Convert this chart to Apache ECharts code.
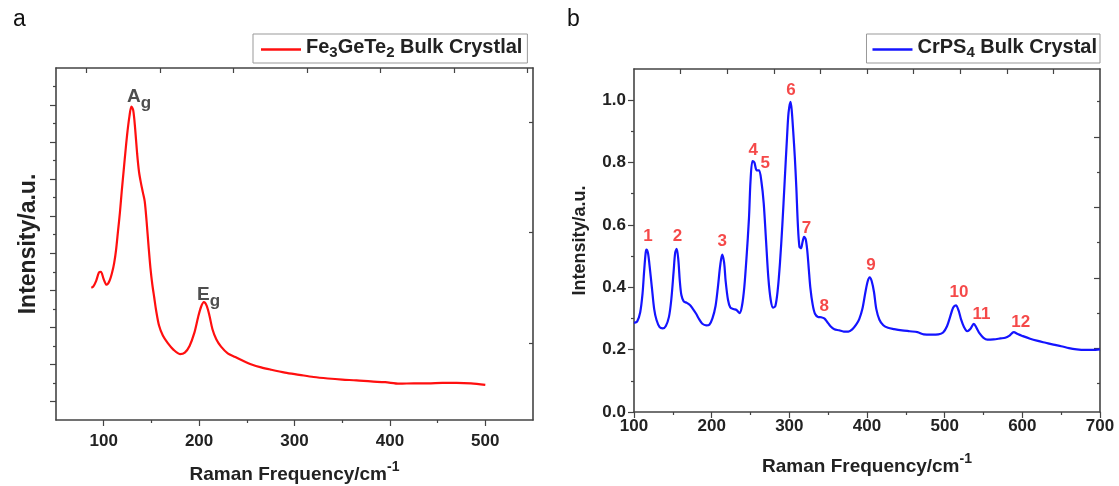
<!DOCTYPE html>
<html>
<head>
<meta charset="utf-8">
<script src="https://cdn.jsdelivr.net/npm/echarts@6/dist/echarts.min.js"></script>
<style>
  html, body { margin: 0; padding: 0; background: #fff; }
  #chart { width: 1119px; height: 486px; }
</style>
</head>
<body>
<div id="chart"></div>
<script>
// panel a: Fe3GeTe2 (arbitrary units, no tick labels)
const fgtX = [87, 89, 92, 95, 97, 100, 103, 106, 109, 111, 113, 115, 117, 119, 121, 123, 125, 127, 129, 131, 133, 135, 137, 139, 141, 143, 145, 147, 149, 151, 153, 155, 158, 162, 167, 173, 180, 185, 190, 195, 199, 202, 205, 208, 211, 214, 218, 223, 230, 238, 246, 255, 265, 275, 290, 305, 320, 335, 350, 365, 380, 395, 410, 425, 440, 455, 470, 485, 500]
const fgtY = [3.57, 3.6, 3.75, 3.98, 4.0, 3.8, 3.65, 3.75, 4.0, 4.24, 4.6, 5.1, 5.6, 6.2, 6.75, 7.3, 7.8, 8.2, 8.46, 8.35, 7.85, 7.2, 6.7, 6.4, 6.15, 5.9, 5.35, 4.7, 4.1, 3.65, 3.3, 2.95, 2.55, 2.28, 2.08, 1.9, 1.78, 1.82, 2.0, 2.35, 2.78, 3.05, 3.18, 3.08, 2.8, 2.45, 2.18, 1.98, 1.8, 1.7, 1.6, 1.5, 1.42, 1.36, 1.28, 1.22, 1.16, 1.12, 1.09, 1.07, 1.04, 1.02, 0.98, 0.99, 0.99, 1.0, 1.0, 0.99, 0.95]

// panel b: CrPS4
const crpsX = [100, 104, 108, 111, 113, 115, 116, 118, 120, 123, 126, 129, 133, 137, 141, 145, 148, 151, 153, 155, 157, 159, 161, 164, 168, 172, 176, 180, 184, 188, 193, 197, 201, 205, 208, 211, 213.5, 216, 218, 221, 224, 228, 232, 236, 239, 242, 245, 248, 250, 252.5, 255, 258, 261, 264, 267, 270, 273, 276, 279, 282, 285, 288, 291, 294, 297, 299, 301.5, 303, 305, 307, 309, 311, 313, 315, 317, 319, 321, 323, 325, 327, 330, 333, 337, 341, 345, 349, 353, 358, 364, 370, 376, 381, 386, 390, 394, 398, 401, 403.5, 406, 409, 412, 416, 421, 427, 435, 445, 455, 465, 473, 483, 492, 498, 503, 507, 511, 514.5, 518, 521, 525, 529, 533, 537.5, 541, 545, 550, 555, 563, 572, 578, 583, 589, 594, 600, 610, 620, 630, 640, 650, 660, 670, 680, 690, 700]
const crpsY = [0.286, 0.29, 0.32, 0.38, 0.45, 0.51, 0.521, 0.51, 0.47, 0.40, 0.33, 0.295, 0.272, 0.268, 0.276, 0.305, 0.36, 0.45, 0.51, 0.523, 0.49, 0.42, 0.375, 0.355, 0.35, 0.343, 0.33, 0.315, 0.297, 0.283, 0.278, 0.28, 0.30, 0.34, 0.40, 0.47, 0.505, 0.48, 0.42, 0.36, 0.335, 0.330, 0.327, 0.317, 0.34, 0.40, 0.50, 0.62, 0.74, 0.805, 0.80, 0.775, 0.775, 0.74, 0.67, 0.55, 0.43, 0.36, 0.335, 0.34, 0.39, 0.48, 0.60, 0.74, 0.88, 0.96, 0.995, 0.97, 0.90, 0.82, 0.72, 0.60, 0.53, 0.525, 0.545, 0.562, 0.555, 0.52, 0.46, 0.40, 0.345, 0.315, 0.305, 0.304, 0.300, 0.288, 0.275, 0.265, 0.262, 0.258, 0.258, 0.265, 0.28, 0.298, 0.33, 0.385, 0.42, 0.432, 0.42, 0.385, 0.33, 0.296, 0.278, 0.270, 0.266, 0.262, 0.259, 0.256, 0.249, 0.248, 0.249, 0.255, 0.275, 0.305, 0.335, 0.342, 0.325, 0.298, 0.272, 0.259, 0.266, 0.283, 0.27, 0.252, 0.238, 0.232, 0.233, 0.236, 0.238, 0.244, 0.256, 0.25, 0.244, 0.235, 0.228, 0.222, 0.216, 0.211, 0.205, 0.201, 0.199, 0.199, 0.201]

// mode labels
const fgtModeText = ['{b|A}{s|g}', '{b|E}{s|g}']
const fgtModeX = [137, 210]
const fgtModeY = [8.62, 3.28]
const crpsPeakText = ['1', '2', '3', '4', '5', '6', '7', '8', '9', '10', '11', '12']
const crpsPeakX = [118, 156, 213.5, 253.5, 269, 302, 322, 345, 405, 518.5, 547.5, 598]
const crpsPeakY = [0.565, 0.562, 0.546, 0.84, 0.797, 1.032, 0.589, 0.339, 0.469, 0.384, 0.313, 0.288]

// tick positions
const aBottomMajor = [100, 200, 300, 400, 500]
const aBottomMinor = [150, 250, 350, 450]
const aTopTicks = [81.5, 159, 235.5, 313, 390, 467, 544]
const aLeftMajor = [0.5, 1.5, 2.5, 3.5, 4.5, 5.5, 6.5, 7.5, 8.5]
const aLeftMinor = [1, 2, 3, 4, 5, 6, 7, 8, 9]
const aRightTicks = [2.07, 5.07, 8.04]
const bLeftMajor = [0, 0.2, 0.4, 0.6, 0.8, 1.0]
const bLeftMinor = [0.1, 0.3, 0.5, 0.7, 0.9]
const bTopTicks = [160, 220, 280, 340, 400, 460, 520, 580, 640]
const bRightLong = [0.204, 0.43, 0.656, 0.882]
const bRightShort = [0.091, 0.317, 0.543, 0.769, 0.995]

const FONT = 'Liberation Sans'
const INK = '#222'
const LINE = '#444'

const chart = echarts.init(document.getElementById('chart'), null, { renderer: 'canvas' })

const richSub = {
  b: { fontSize: 19, fontWeight: 'bold', fontFamily: FONT, color: INK, lineHeight: 26, verticalAlign: 'top' },
  s: { fontSize: 17, fontWeight: 'bold', fontFamily: FONT, color: INK, lineHeight: 26, padding: [7, 0, 0, 0], verticalAlign: 'top' },
}
const richLegend = {
  n: { fontSize: 20, fontWeight: 'bold', fontFamily: FONT, color: INK, lineHeight: 25, verticalAlign: 'top' },
  s: { fontSize: 15, fontWeight: 'bold', fontFamily: FONT, color: INK, lineHeight: 25, padding: [8, 0, 0, 0], verticalAlign: 'top' },
}
const richName = {
  n: { fontSize: 19, fontWeight: 'bold', fontFamily: FONT, color: INK, padding: [7, 0, 0, 0] },
  p: { fontSize: 14, fontWeight: 'bold', fontFamily: FONT, color: INK, padding: [0, 0, 7, 0] },
}

// helper: an axis used only to draw a set of ticks
function tickAxis(grid, pos, min, max, vals, len, inside) {
  return {
    type: 'value', gridIndex: grid, position: pos, min, max,
    axisLine: { show: false },
    axisTick: { show: true, inside: !!inside, length: len, customValues: vals, lineStyle: { color: LINE, width: 1.2 } },
    axisLabel: { show: false }, splitLine: { show: false },
  }
}
const axisLineStyle = { show: true, onZero: false, lineStyle: { color: LINE, width: 1.6 } }
const tickLabel = { fontSize: 17, fontWeight: 'bold', fontFamily: FONT, color: INK }

const option = {
  animation: false,
  backgroundColor: '#fff',
  title: [
    { text: 'a', left: 8, top: 3, textStyle: { fontSize: 23, fontWeight: 'normal', fontFamily: FONT, color: '#111' } },
    { text: 'b', left: 562, top: 3, textStyle: { fontSize: 23, fontWeight: 'normal', fontFamily: FONT, color: '#111' } },
  ],
  legend: [
    {
      data: ['Fe3GeTe2 Bulk Crystlal'], left: 253, top: 34, orient: 'horizontal',
      icon: 'rect', itemWidth: 40, itemHeight: 2.5,
      borderColor: '#999', borderWidth: 1, padding: [3, 5, 3, 8],
      formatter: () => '{n|Fe}{s|3}{n|GeTe}{s|2}{n| Bulk Crystlal}',
      textStyle: { rich: richLegend },
    },
    {
      data: ['CrPS4 Bulk Crystal'], right: 19, top: 34, orient: 'horizontal',
      icon: 'rect', itemWidth: 40, itemHeight: 2.5,
      borderColor: '#999', borderWidth: 1, padding: [3, 3, 3, 6],
      formatter: () => '{n|CrPS}{s|4}{n| Bulk Crystal}',
      textStyle: { rich: richLegend },
    },
  ],
  grid: [
    { left: 56, top: 68, right: 586, bottom: 66, containLabel: false, outerBoundsMode: 'none' },
    { left: 634, top: 69, right: 19, bottom: 74, containLabel: false, outerBoundsMode: 'none' },
  ],
  xAxis: [
    {
      type: 'value', gridIndex: 0, position: 'bottom', min: 50, max: 550,
      axisLine: axisLineStyle,
      axisTick: { show: true, length: 6, customValues: aBottomMajor, lineStyle: { color: LINE, width: 1.2 } },
      axisLabel: Object.assign({ customValues: aBottomMajor, margin: 13 }, tickLabel),
      splitLine: { show: false },
      name: '{n|Raman Frequency/cm}{p|-1}', nameLocation: 'middle', nameGap: 38,
      nameTextStyle: { rich: richName },
    },
    tickAxis(0, 'bottom', 50, 550, aBottomMinor, 3),
    Object.assign(tickAxis(0, 'top', 50, 550, aTopTicks, 5, true), { axisLine: axisLineStyle }),
    {
      type: 'value', gridIndex: 1, position: 'bottom', min: 100, max: 700, interval: 100,
      axisLine: axisLineStyle,
      axisTick: { show: true, length: 6, lineStyle: { color: LINE, width: 1.2 } },
      minorTick: { show: true, splitNumber: 2, length: 3, lineStyle: { color: LINE, width: 1.2 } },
      axisLabel: Object.assign({ margin: 6 }, tickLabel),
      splitLine: { show: false },
      name: '{n|Raman Frequency/cm}{p|-1}', nameLocation: 'middle', nameGap: 38,
      nameTextStyle: { rich: richName },
    },
    Object.assign(tickAxis(1, 'top', 100, 700, bTopTicks, 5, true), { axisLine: axisLineStyle }),
  ],
  yAxis: [
    {
      type: 'value', gridIndex: 0, position: 'left', min: 0, max: 9.5,
      axisLine: axisLineStyle,
      axisTick: { show: true, length: 6, customValues: aLeftMajor, lineStyle: { color: LINE, width: 1.2 } },
      axisLabel: { show: false }, splitLine: { show: false },
      name: 'Intensity/a.u.', nameLocation: 'middle', nameGap: 16,
      nameTextStyle: { fontSize: 23, fontWeight: 'bold', fontFamily: FONT, color: INK },
    },
    tickAxis(0, 'left', 0, 9.5, aLeftMinor, 3),
    Object.assign(tickAxis(0, 'right', 0, 9.5, aRightTicks, 4, true), { axisLine: axisLineStyle }),
    {
      type: 'value', gridIndex: 1, position: 'left', min: 0, max: 1.1,
      axisLine: axisLineStyle,
      axisTick: { show: true, length: 6, customValues: bLeftMajor, lineStyle: { color: LINE, width: 1.2 } },
      axisLabel: Object.assign({ customValues: bLeftMajor, margin: 8, formatter: v => v.toFixed(1) }, tickLabel),
      splitLine: { show: false },
      name: 'Intensity/a.u.', nameLocation: 'middle', nameGap: 45,
      nameTextStyle: { fontSize: 18, fontWeight: 'bold', fontFamily: FONT, color: INK },
    },
    tickAxis(1, 'left', 0, 1.1, bLeftMinor, 3),
    Object.assign(tickAxis(1, 'right', 0, 1.1, bRightLong, 6, true), { axisLine: axisLineStyle }),
    tickAxis(1, 'right', 0, 1.1, bRightShort, 3, true),
  ],
  series: [
    {
      name: 'Fe3GeTe2 Bulk Crystlal', type: 'line', xAxisIndex: 0, yAxisIndex: 0,
      data: fgtX.map((x, i) => [x, fgtY[i]]), smooth: 0.3, showSymbol: false,
      lineStyle: { color: '#ff0f0f', width: 2.2 }, itemStyle: { color: '#ff0f0f' },
    },
    {
      name: 'CrPS4 Bulk Crystal', type: 'line', xAxisIndex: 3, yAxisIndex: 3,
      data: crpsX.map((x, i) => [x, crpsY[i]]), smooth: 0.3, showSymbol: false,
      lineStyle: { color: '#1414ff', width: 2.2 }, itemStyle: { color: '#1414ff' },
    },
    {
      type: 'scatter', xAxisIndex: 0, yAxisIndex: 0, symbolSize: 0.1, silent: true,
      itemStyle: { color: 'transparent' },
      data: fgtModeX.map((x, i) => [x, fgtModeY[i]]),
      label: { show: true, position: 'inside', formatter: p => fgtModeText[p.dataIndex], rich: richSub },
    },
    {
      type: 'scatter', xAxisIndex: 3, yAxisIndex: 3, symbolSize: 0.1, silent: true,
      itemStyle: { color: 'transparent' },
      data: crpsPeakX.map((x, i) => [x, crpsPeakY[i]]),
      label: {
        show: true, position: 'inside', formatter: p => crpsPeakText[p.dataIndex],
        fontSize: 17, fontWeight: 'bold', fontFamily: FONT, color: '#f21c1c',
      },
    },
  ],
}
chart.setOption(option)
</script>
</body>
</html>
